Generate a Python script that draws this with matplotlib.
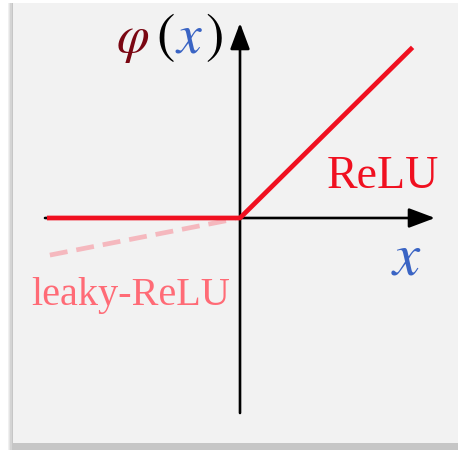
"""ReLU vs leaky-ReLU sketch on a grey card with a soft drop shadow."""
import matplotlib
matplotlib.use("Agg")
import matplotlib.pyplot as plt
from matplotlib.patches import Rectangle
import numpy as np

plt.rcParams["mathtext.fontset"] = "stix"

# ============================================================
# Data
# ============================================================
RELU_X = [-1.98, 0.0, 1.77]
RELU_Y = [0.0, 0.0, 1.75]
LEAKY_X = [-1.95, -0.05]
LEAKY_SLOPE = 0.195
AXIS_EXTENT = 2.0

RED = "#f01020"
PINK_LINE = "#f5b8be"
PINK_TEXT = "#ff6b76"
DARK_RED = "#7a0612"
BLUE = "#3a64c4"
PANEL = "#f2f2f2"

W_PX, H_PX = 458, 450
ORIGIN_PX = (240, 218)
UNIT_PX = 97.5


def add_card(fig):
    # soft shadow on the left and bottom, then the card itself
    for k, grey in enumerate(["#f0f0f0", "#e4e4e4", "#d4d4d4", "#c6c6c6"]):
        off = 5 - k * 1.2
        fig.add_artist(Rectangle(((13 - off) / W_PX, 0),
                                 (W_PX - 13 + off) / W_PX, (H_PX - 3) / H_PX,
                                 transform=fig.transFigure, facecolor=grey,
                                 edgecolor="none", zorder=-3 + k * 0.1))
    fig.add_artist(Rectangle((13 / W_PX, 7 / H_PX), (W_PX - 13) / W_PX,
                             (H_PX - 10) / H_PX, transform=fig.transFigure,
                             facecolor=PANEL, edgecolor="none", zorder=-2))


def main():
    fig = plt.figure(figsize=(W_PX / 100, H_PX / 100), dpi=100, facecolor="white")
    add_card(fig)
    ax = fig.add_axes([0, 0, 1, 1])
    ax.set_axis_off()
    ax.patch.set_alpha(0)
    ax.set_xlim(-ORIGIN_PX[0] / UNIT_PX, (W_PX - ORIGIN_PX[0]) / UNIT_PX)
    ax.set_ylim(-(H_PX - ORIGIN_PX[1]) / UNIT_PX, ORIGIN_PX[1] / UNIT_PX)

    head = "-|>,head_length=0.8,head_width=0.3"
    ax.annotate("", xy=(AXIS_EXTENT, 0), xytext=(-AXIS_EXTENT, 0),
                arrowprops=dict(arrowstyle=head, mutation_scale=20, lw=1.9,
                                color="black", shrinkA=0, shrinkB=0), zorder=2)
    ax.annotate("", xy=(0, AXIS_EXTENT), xytext=(0, -AXIS_EXTENT),
                arrowprops=dict(arrowstyle=head, mutation_scale=20, lw=1.9,
                                color="black", shrinkA=0, shrinkB=0), zorder=2)

    lx = np.array(LEAKY_X)
    ax.plot(lx, LEAKY_SLOPE * lx, color=PINK_LINE, lw=3.4, dashes=(3.8, 1.9),
            solid_capstyle="butt", zorder=3)
    ax.plot(RELU_X, RELU_Y, color=RED, lw=3.4, solid_capstyle="butt", zorder=4)

    # labels
    ax.text(1.47, 0.31, "ReLU", color=RED, fontsize=33,
            family="Liberation Serif", ha="center", va="baseline")
    ax.text(-1.12, -0.89, "leaky-ReLU", color=PINK_TEXT, fontsize=29,
            family="Liberation Serif", ha="center", va="baseline")
    ax.text(1.71, -0.58, r"$x$", color=BLUE, fontsize=44,
            ha="center", va="baseline")

    ty = 1.70
    ax.text(-1.10, ty, r"$\varphi$", color=DARK_RED, fontsize=38, ha="center", va="baseline")
    ax.text(-0.77, ty, r"$($", color="black", fontsize=40, ha="center", va="baseline")
    ax.text(-0.52, ty, r"$x$", color=BLUE, fontsize=40, ha="center", va="baseline")
    ax.text(-0.27, ty, r"$)$", color="black", fontsize=40, ha="center", va="baseline")

    fig.savefig("out.png", dpi=100, facecolor="white")
    plt.close(fig)


if __name__ == "__main__":
    main()
